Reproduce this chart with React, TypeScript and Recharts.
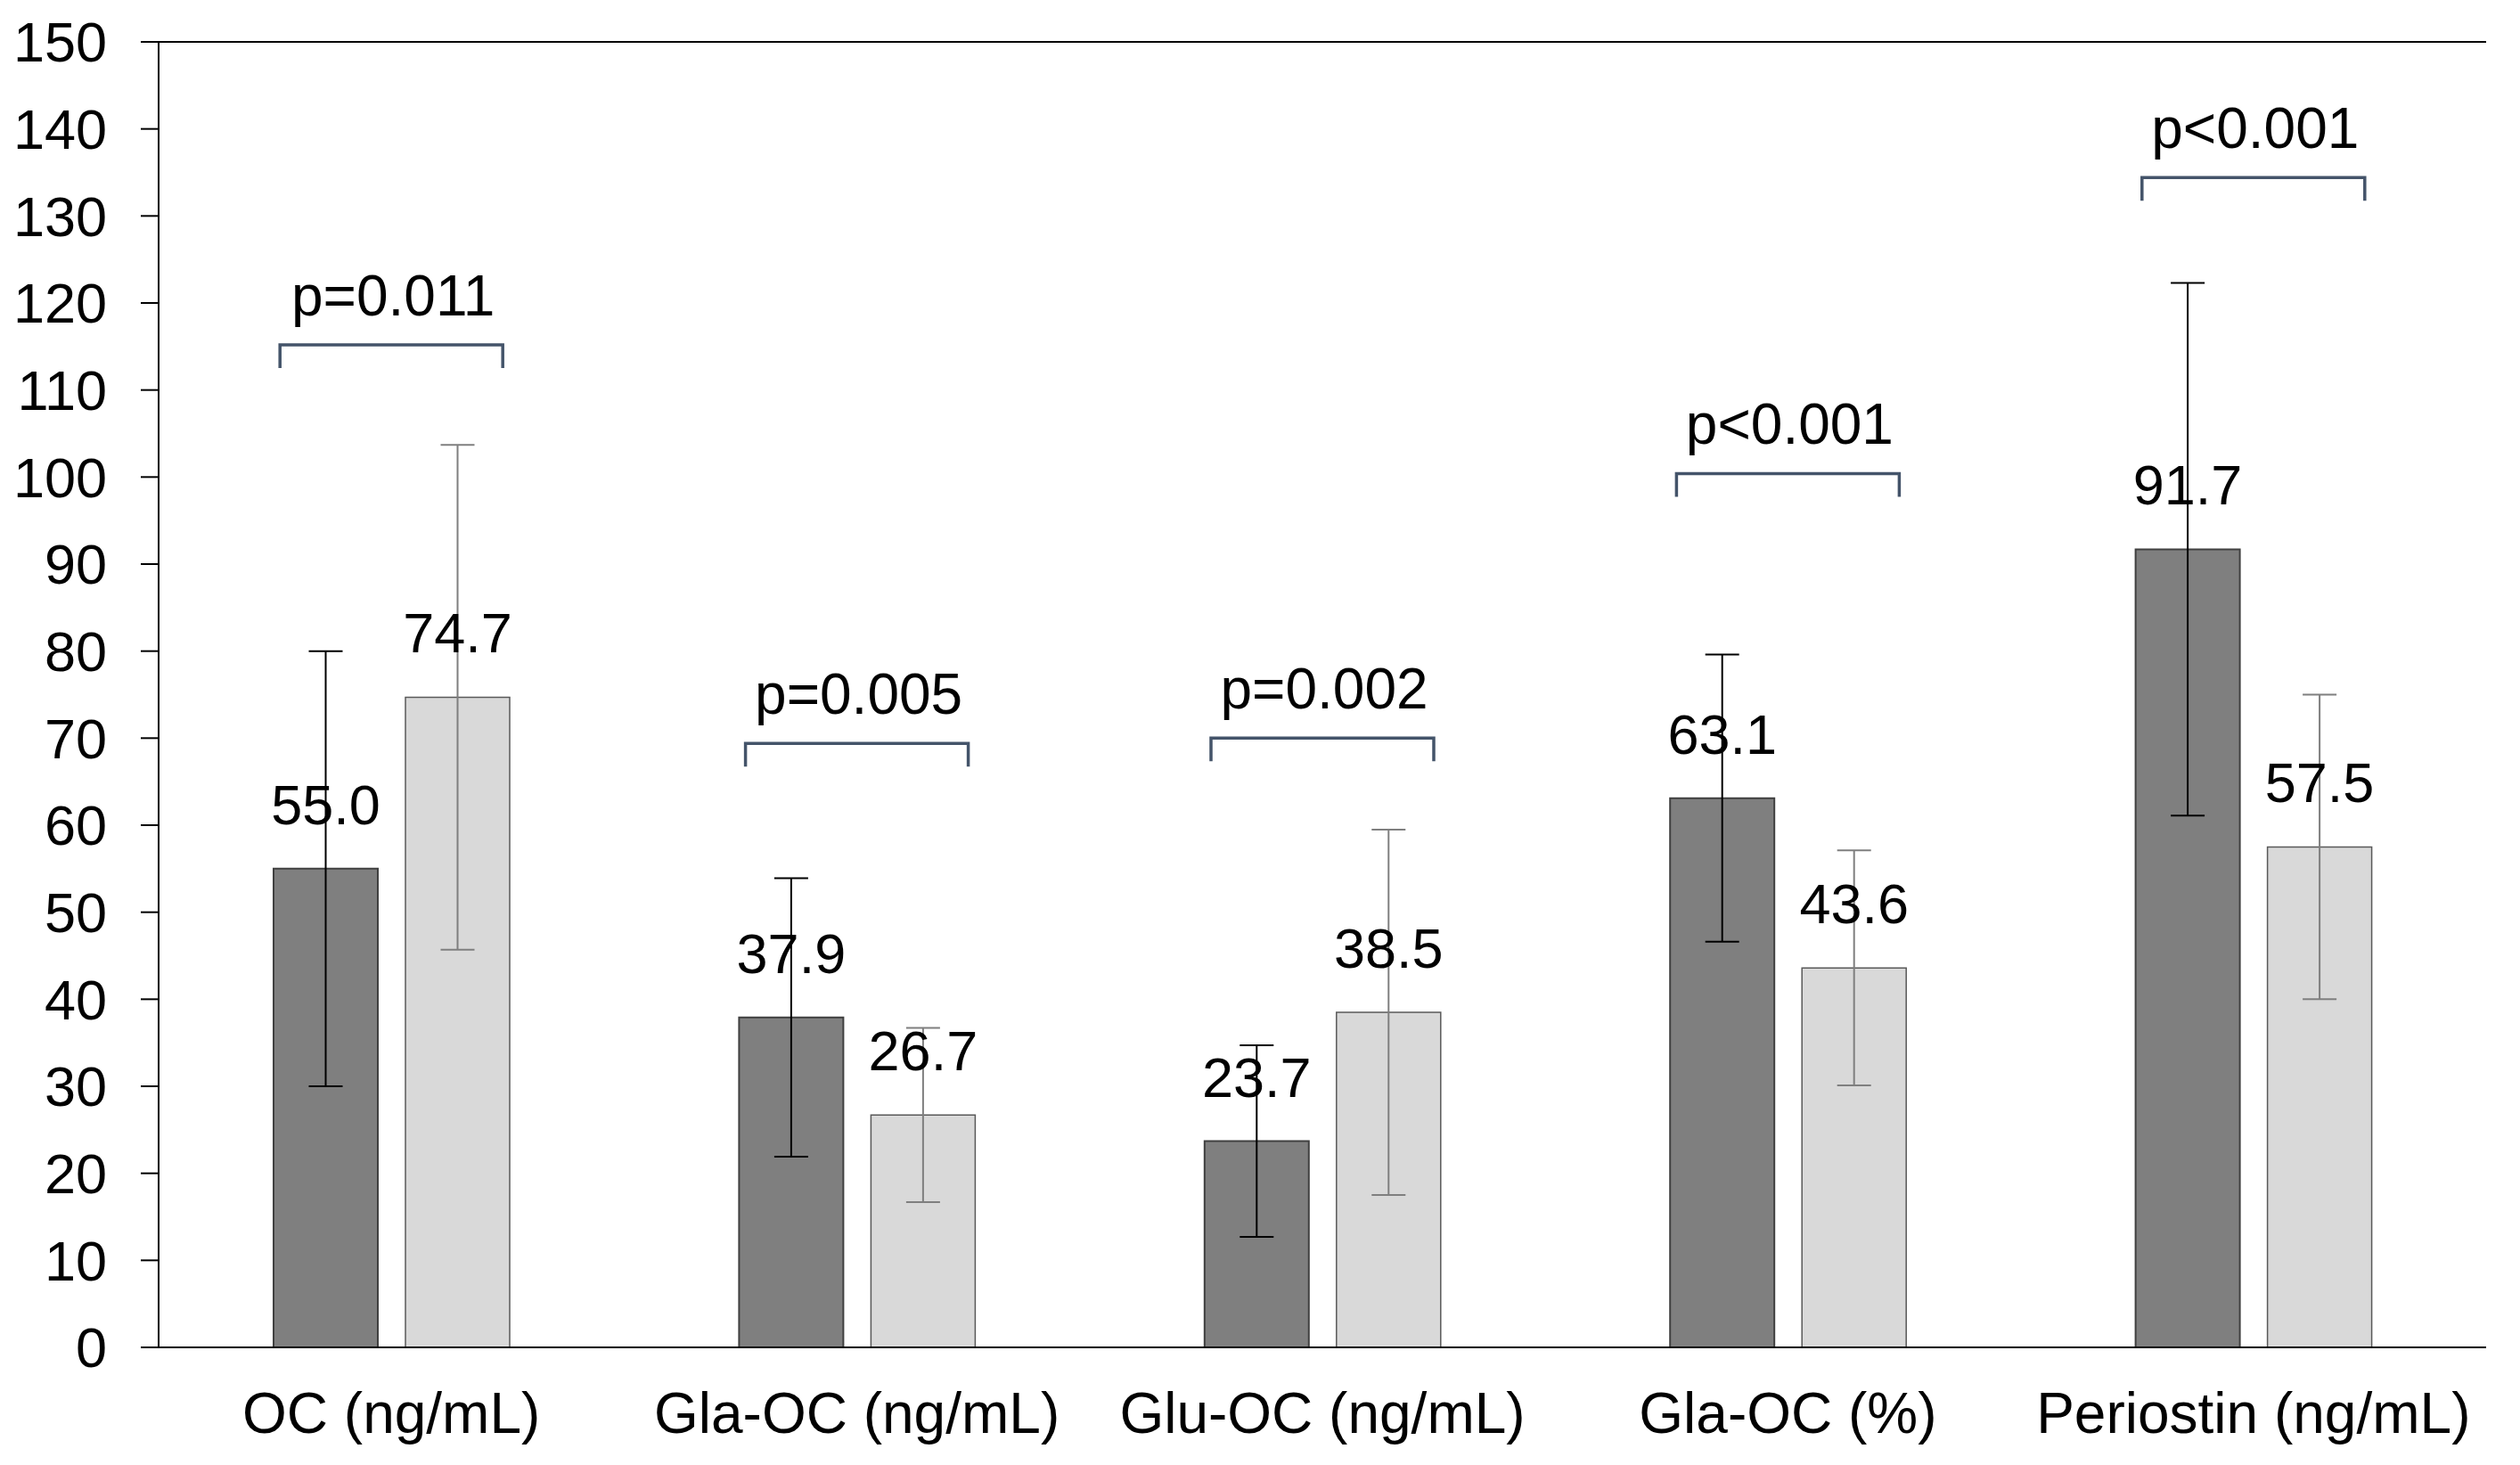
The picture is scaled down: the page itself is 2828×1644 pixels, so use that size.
import { ComposedChart, Bar, Line, XAxis, YAxis, ErrorBar, LabelList, ReferenceLine } from "recharts";

const categories = ["OC (ng/mL)", "Gla-OC (ng/mL)", "Glu-OC (ng/mL)", "Gla-OC (%)", "Periostin (ng/mL)"];
const groupA = [55.0, 37.9, 23.7, 63.1, 91.7];
const groupB = [74.7, 26.7, 38.5, 43.6, 57.5];
const sdA = [25.0, 16.0, 11.0, 16.5, 30.6];
const sdB = [29.0, 10.0, 21.0, 13.5, 17.5];
const pLabels = ["p=0.011", "p=0.005", "p=0.002", "p<0.001", "p<0.001"];
const bracketLevels = [115.2, 69.4, 70.0, 100.4, 134.4];
const yTicks = [0, 10, 20, 30, 40, 50, 60, 70, 80, 90, 100, 110, 120, 130, 140, 150];

const data = categories.map((name, i) => ({
  name,
  a: groupA[i],
  b: groupB[i],
  sdA: sdA[i],
  sdB: sdB[i],
  bracket: bracketLevels[i],
  p: pLabels[i],
}));

const FONT = "'Liberation Sans', Arial, sans-serif";

// bracket + p-value drawn at the category point of the invisible line
function Bracket(props: any) {
  const { cx, cy, payload, index } = props;
  if (cx == null || cy == null) return <g key={`br-${index}`} />;
  const half = 125;
  const leg = 26;
  return (
    <g key={`br-${index}`}>
      <path
        d={`M${cx - half},${cy + leg} L${cx - half},${cy} L${cx + half},${cy} L${cx + half},${cy + leg}`}
        fill="none"
        stroke="#44546A"
        strokeWidth={3.5}
      />
      <text x={cx + 2} y={cy - 33} textAnchor="middle" fontSize={64} fontFamily={FONT} fill="#000">
        {payload.p}
      </text>
    </g>
  );
}

export default function App() {
  return (
    <div style={{ width: 2828, height: 1644, background: "#fff" }}>
      <style>{"body{margin:0}"}</style>
      <ComposedChart
        width={2828}
        height={1644}
        data={data}
        margin={{ top: 47, right: 38, bottom: 0, left: 0 }}
        barSize={117}
        barGap={31}
      >
        <XAxis
          dataKey="name"
          height={132}
          tickLine={false}
          tickSize={0}
          tickMargin={51}
          axisLine={{ stroke: "#000", strokeWidth: 2 }}
          tick={{ fontSize: 64, fontFamily: FONT, fill: "#000" }}
          interval={0}
        />
        <YAxis
          yAxisId="left"
          width={178}
          domain={[0, 150]}
          ticks={yTicks}
          interval={0}
          tickSize={20}
          tickMargin={38}
          axisLine={{ stroke: "#000", strokeWidth: 2 }}
          tickLine={{ stroke: "#000", strokeWidth: 2 }}
          tick={{ fontSize: 63, fontFamily: FONT, fill: "#000" }}
        />
        <YAxis
          yAxisId="right"
          orientation="right"
          width={0}
          domain={[0, 150]}
          tick={false}
          tickLine={false}
          axisLine={{ stroke: "#000", strokeWidth: 2 }}
        />
        <ReferenceLine yAxisId="left" y={150} stroke="#000" strokeWidth={2} />
        <Bar yAxisId="left" dataKey="a" fill="#7F7F7F" stroke="#404040" strokeWidth={2} isAnimationActive={false}>
          <ErrorBar dataKey="sdA" width={19} stroke="#000" strokeWidth={2} isAnimationActive={false} />
          <LabelList
            dataKey="a"
            position="top"
            offset={50}
            formatter={(v: any) => Number(v).toFixed(1)}
            style={{ fontSize: 63, fontFamily: FONT, fill: "#000" }}
          />
        </Bar>
        <Bar yAxisId="left" dataKey="b" fill="#D9D9D9" stroke="#595959" strokeWidth={1.5} isAnimationActive={false}>
          <ErrorBar dataKey="sdB" width={19} stroke="#7F7F7F" strokeWidth={2} isAnimationActive={false} />
          <LabelList
            dataKey="b"
            position="top"
            offset={50}
            formatter={(v: any) => Number(v).toFixed(1)}
            style={{ fontSize: 63, fontFamily: FONT, fill: "#000" }}
          />
        </Bar>
        <Line
          yAxisId="left"
          dataKey="bracket"
          stroke="none"
          dot={(p: any) => <Bracket {...p} />}
          activeDot={false}
          legendType="none"
          isAnimationActive={false}
        />
      </ComposedChart>
    </div>
  );
}
